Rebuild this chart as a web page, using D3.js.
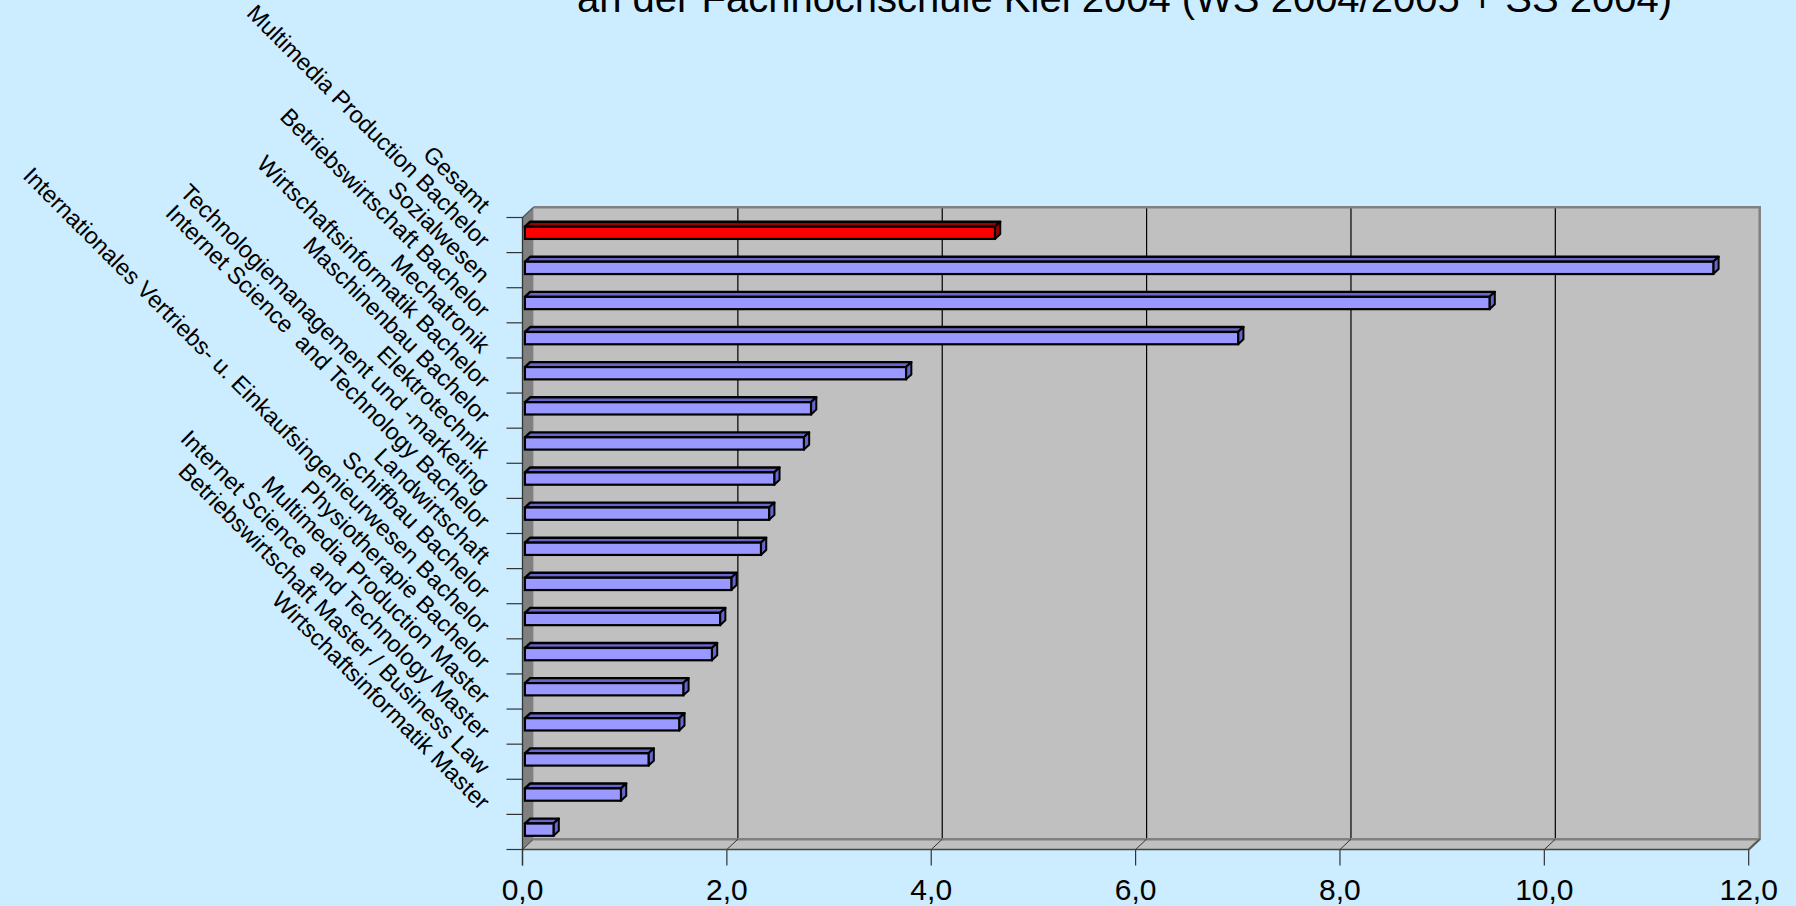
<!DOCTYPE html>
<html>
<head>
<meta charset="utf-8">
<script src="https://cdn.jsdelivr.net/npm/d3@7"></script>
<style>
  html, body { margin: 0; padding: 0; background: #CCECFF; overflow: hidden; }
  svg { display: block; }
  text { font-family: "Liberation Sans", Arial, sans-serif; }
</style>
</head>
<body>
<svg id="chart" width="1796" height="906"></svg>
<script>
// Studiengänge (top to bottom) and their values
const categories = [
  "Gesamt",
  "Multimedia Production Bachelor",
  "Sozialwesen",
  "Betriebswirtschaft Bachelor",
  "Mechatronik",
  "Wirtschaftsinformatik Bachelor",
  "Maschinenbau Bachelor",
  "Elektrotechnik",
  "Technologiemanagement und -marketing",
  "Internet Science  and Technology Bachelor",
  "Landwirtschaft",
  "Schiffbau Bachelor",
  "Internationales Vertriebs- u. Einkaufsingenieurwesen Bachelor",
  "Physiotherapie Bachelor",
  "Multimedia Production Master",
  "Internet Science  and Technology Master",
  "Betriebswirtschaft Master / Business Law",
  "Wirtschaftsinformatik Master"
];
const values = [4.6, 11.63, 9.44, 6.98, 3.73, 2.8, 2.73, 2.44, 2.39, 2.31, 2.02, 1.91, 1.83, 1.55, 1.51, 1.21, 0.94, 0.28];
const xTicks = [0, 2, 4, 6, 8, 10, 12];
const titleLine = "an der Fachhochschule Kiel 2004 (WS 2004/2005 + SS 2004)";

const svg = d3.select("#chart");
const W = 1796, H = 906;

// front plane of the 3D box
const plot = { left: 522.5, right: 1748.7, top: 217.5, bottom: 849.5 };
const depth = { dx: 11, dy: -10.3 };      // full depth of the box
const barDepth = { front: 0.22, back: 0.70 };

const x = d3.scaleLinear().domain([0, 12]).range([plot.left, plot.right]);
const y = d3.scaleBand().domain(categories).range([plot.top, plot.bottom])
  .paddingInner(0.65).paddingOuter(0.325);

const de = d3.formatLocale({ decimal: ",", thousands: ".", grouping: [3], currency: ["", " €"] });
const fmt = de.format(".1f");

svg.append("rect").attr("width", W).attr("height", H).attr("fill", "#CCECFF");

// title (second line, the first one sits above the visible area)
svg.append("text")
  .attr("x", 1124.5).attr("y", 11.7)
  .attr("text-anchor", "middle")
  .attr("font-size", 40)
  .attr("fill", "#000")
  .text(titleLine);

const bx = v => x(v) + depth.dx;
const yTopB = plot.top + depth.dy, yBotB = plot.bottom + depth.dy;
const line = d3.line();

// back wall
svg.append("path")
  .attr("d", line([[bx(0), yTopB], [bx(12), yTopB], [bx(12), yBotB], [bx(0), yBotB]]) + "Z")
  .attr("fill", "#C0C0C0");

// left side wall
svg.append("path")
  .attr("d", line([[x(0), plot.top], [bx(0), yTopB], [bx(0), yBotB], [x(0), plot.bottom]]) + "Z")
  .attr("fill", "#808080");

// floor
svg.append("path")
  .attr("d", line([[x(0), plot.bottom], [bx(0), yBotB], [bx(12), yBotB], [x(12), plot.bottom]]) + "Z")
  .attr("fill", "#C0C0C0");

// back wall gridlines
svg.append("g").selectAll("line").data(xTicks.filter(v => v > 0 && v < 12)).join("line")
  .attr("x1", d => bx(d)).attr("x2", d => bx(d))
  .attr("y1", yTopB).attr("y2", yBotB)
  .attr("stroke", "#000").attr("stroke-width", 1.2);

// wall borders
svg.append("path")
  .attr("d", line([[bx(0), yTopB], [bx(12), yTopB], [bx(12), yBotB], [x(12), plot.bottom]]))
  .attr("fill", "none").attr("stroke", "#808080").attr("stroke-width", 2.5);
svg.append("line")
  .attr("x1", bx(0)).attr("x2", bx(12)).attr("y1", yBotB).attr("y2", yBotB)
  .attr("stroke", "#808080").attr("stroke-width", 2.5);
svg.append("line")
  .attr("x1", x(0)).attr("x2", bx(0)).attr("y1", plot.top).attr("y2", yTopB)
  .attr("stroke", "#555").attr("stroke-width", 1.2);

// floor tick diagonals and front axis ticks
svg.append("g").selectAll("line").data(xTicks).join("line")
  .attr("x1", d => bx(d)).attr("x2", d => x(d))
  .attr("y1", yBotB).attr("y2", plot.bottom)
  .attr("stroke", "#333").attr("stroke-width", 1);
svg.append("g").selectAll("line").data(xTicks).join("line")
  .attr("x1", d => x(d)).attr("x2", d => x(d))
  .attr("y1", plot.bottom).attr("y2", plot.bottom + 16)
  .attr("stroke", "#333").attr("stroke-width", 1.2);
svg.append("line")
  .attr("x1", x(0)).attr("x2", x(12)).attr("y1", plot.bottom).attr("y2", plot.bottom)
  .attr("stroke", "#444").attr("stroke-width", 1.3);

// category axis
svg.append("line")
  .attr("x1", x(0)).attr("x2", x(0)).attr("y1", plot.top).attr("y2", plot.bottom + 16)
  .attr("stroke", "#333").attr("stroke-width", 1.3);
const step = y.step();
svg.append("g").selectAll("line").data(d3.range(categories.length + 1)).join("line")
  .attr("x1", x(0) - 16).attr("x2", x(0))
  .attr("y1", i => plot.top + i * step).attr("y2", i => plot.top + i * step)
  .attr("stroke", "#333").attr("stroke-width", 1.2);

// bars
const fdx = depth.dx * barDepth.front, fdy = depth.dy * barDepth.front;
const kdx = depth.dx * barDepth.back, kdy = depth.dy * barDepth.back;
const bh = y.bandwidth();
const bars = svg.append("g").selectAll("g").data(categories.map((c, i) => ({ c, v: values[i], i }))).join("g");
const frontCol = d => d.i === 0 ? "#FF0000" : "#9999FF";
const shadeCol = d => d.i === 0 ? "#990000" : "#6666CC";

bars.append("path")
  .attr("d", d => {
    const y0 = y(d.c);
    return line([[x(0) + fdx, y0 + fdy], [x(0) + kdx, y0 + kdy], [x(d.v) + kdx, y0 + kdy], [x(d.v) + fdx, y0 + fdy]]) + "Z";
  })
  .attr("fill", shadeCol).attr("stroke", "#000").attr("stroke-width", 2.4).attr("stroke-linejoin", "round");
bars.append("path")
  .attr("d", d => {
    const y0 = y(d.c);
    return line([[x(d.v) + fdx, y0 + fdy], [x(d.v) + kdx, y0 + kdy], [x(d.v) + kdx, y0 + bh + kdy], [x(d.v) + fdx, y0 + bh + fdy]]) + "Z";
  })
  .attr("fill", shadeCol).attr("stroke", "#000").attr("stroke-width", 2).attr("stroke-linejoin", "round");
bars.append("rect")
  .attr("x", x(0) + fdx).attr("y", d => y(d.c) + fdy)
  .attr("width", d => x(d.v) - x(0)).attr("height", bh)
  .attr("fill", frontCol).attr("stroke", "#000").attr("stroke-width", 2.2);

// x tick labels
svg.append("g").selectAll("text").data(xTicks).join("text")
  .attr("x", d => x(d)).attr("y", 900)
  .attr("text-anchor", "middle").attr("font-size", 30).attr("fill", "#000")
  .text(d => fmt(d));

// rotated category labels
svg.append("g").selectAll("text").data(categories).join("text")
  .attr("transform", d => `translate(480,${y(d) + bh / 2 - 21}) rotate(45)`)
  .attr("text-anchor", "end").attr("font-size", 23.5).attr("fill", "#000")
  .style("white-space", "pre")
  .text(d => d);
</script>
</body>
</html>
